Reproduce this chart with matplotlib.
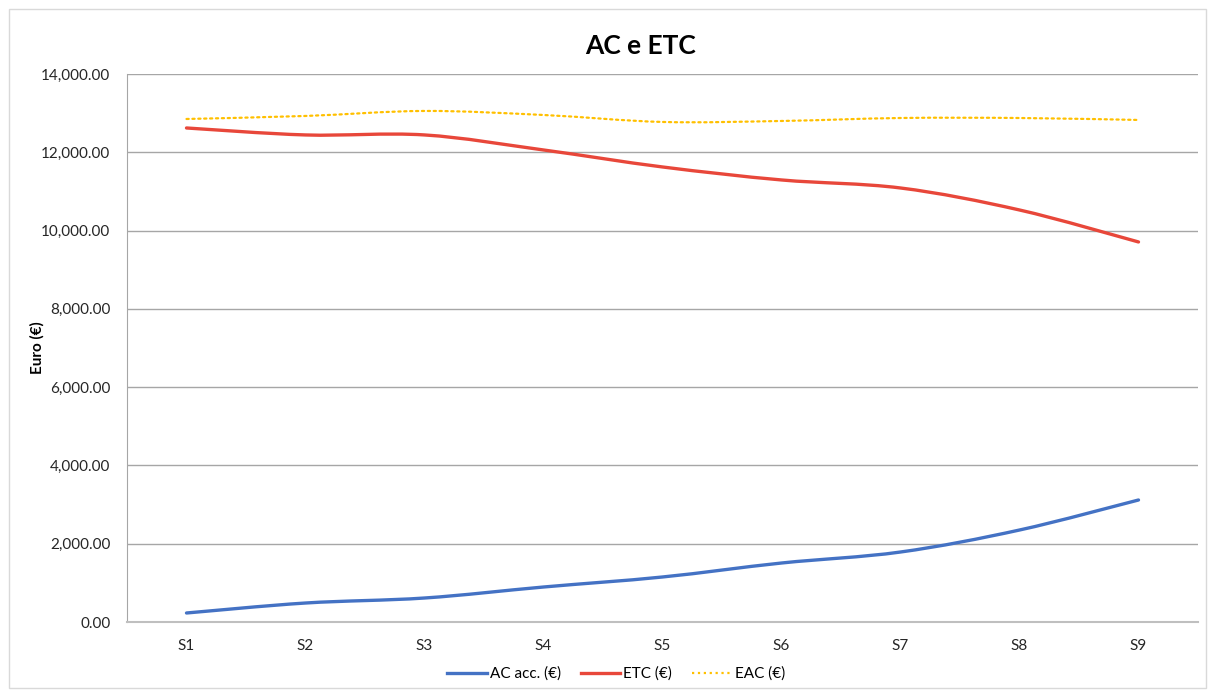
import matplotlib.pyplot as plt
import numpy as np
from matplotlib.path import Path
from matplotlib.patches import PathPatch, Rectangle
from matplotlib.lines import Line2D
from matplotlib.ticker import FuncFormatter

plt.rcParams['font.family'] = ['Lato', 'DejaVu Sans']

categories = ['S1', 'S2', 'S3', 'S4', 'S5', 'S6', 'S7', 'S8', 'S9']
ac_acc = [230, 485, 613, 894, 1150, 1507, 1788, 2350, 3117]
etc = [12621, 12443, 12443, 12059, 11625, 11293, 11088, 10526, 9709]
eac = [12851, 12928, 13056, 12953, 12775, 12800, 12876, 12876, 12826]

BLUE = '#4472C4'
RED = '#E8473A'
YELLOW = '#FFC000'


def smooth_path(x, y):
    # Excel-like smoothed line: cubic Bezier segments with Catmull-Rom tangents
    x = np.asarray(x, float)
    y = np.asarray(y, float)
    n = len(x)
    verts = [(x[0], y[0])]
    codes = [Path.MOVETO]
    for i in range(n - 1):
        p0 = (x[i - 1], y[i - 1]) if i > 0 else (x[i], y[i])
        p1 = (x[i], y[i])
        p2 = (x[i + 1], y[i + 1])
        p3 = (x[i + 2], y[i + 2]) if i + 2 < n else p2
        c1 = (p1[0] + (p2[0] - p0[0]) / 6, p1[1] + (p2[1] - p0[1]) / 6)
        c2 = (p2[0] - (p3[0] - p1[0]) / 6, p2[1] - (p3[1] - p1[1]) / 6)
        verts += [c1, c2, p2]
        codes += [Path.CURVE4] * 3
    return Path(verts, codes)


fig = plt.figure(figsize=(12.09, 6.91), dpi=100)
fig.patch.set_facecolor('white')
fig.add_artist(Rectangle((9 / 1209, 3 / 691), 1197 / 1209, 679 / 691, transform=fig.transFigure,
                         fill=False, edgecolor='#d9d9d9', lw=1.0))

ax = fig.add_axes([127 / 1209, 69 / 691, 1071 / 1209, 548 / 691])
xs = np.arange(len(categories)) + 0.5

series = [(ac_acc, BLUE, '-', 'AC acc. (€)'),
          (etc, RED, '-', 'ETC (€)'),
          (eac, YELLOW, ':', 'EAC (€)')]
handles = []
for vals, col, ls, lab in series:
    lw = 2.4 if ls == '-' else 1.6
    ax.add_patch(PathPatch(smooth_path(xs, vals), facecolor='none', edgecolor=col,
                           lw=lw, ls=ls, capstyle='round', zorder=3))
    handles.append(Line2D([], [], color=col, lw=lw, ls=ls, label=lab))

ax.set_xlim(0, len(categories))
ax.set_ylim(0, 14000)
ax.set_yticks(np.arange(0, 14001, 2000))
ax.yaxis.set_major_formatter(FuncFormatter(lambda v, p: f'{v:,.2f}'))
ax.set_xticks(xs)
ax.set_xticklabels(categories)
ax.tick_params(axis='both', length=0, labelsize=11, colors='#262626')
ax.tick_params(axis='x', pad=12)
ax.tick_params(axis='y', pad=12)
ax.grid(axis='y', color='#a6a6a6', lw=1.0)
ax.set_axisbelow(True)
for s in ['top', 'right']:
    ax.spines[s].set_visible(False)
ax.spines['left'].set_color('#a6a6a6')
ax.spines['bottom'].set_color('#bfbfbf')
ax.spines['bottom'].set_linewidth(1.5)

fig.text(37 / 1209, 1 - 348 / 691, 'Euro (€)', rotation=90, ha='center', va='center',
         fontsize=11, fontweight='bold')
fig.text(641 / 1209, 1 - 46 / 691, 'AC e ETC', ha='center', va='center',
         fontsize=19, fontweight='bold')

fig.legend(handles=handles, loc='center', bbox_to_anchor=(616 / 1209, 1 - 674 / 691), ncol=3,
           frameon=False, fontsize=11, handlelength=2.6, columnspacing=1.3, handletextpad=0.2)

fig.savefig('out.png', dpi=100)
